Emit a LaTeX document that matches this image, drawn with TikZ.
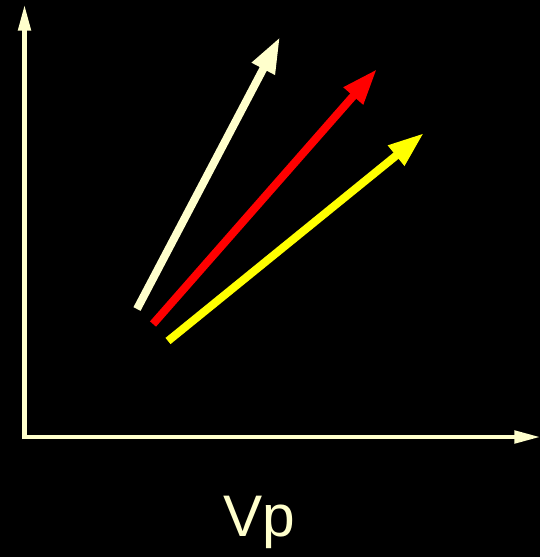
\documentclass[tikz,border=0pt]{standalone}
\usepackage{fontspec}
\setmainfont{Liberation Sans}
\usepackage{xcolor}
\usepackage{tikz}
\usetikzlibrary{arrows.meta, positioning, calc}
\definecolor{cream}{RGB}{255, 255, 204}
\definecolor{vred}{RGB}{255, 0, 0}
\definecolor{vyellow}{RGB}{255, 255, 0}

\begin{document}
\begin{tikzpicture}[x=0.75pt, y=-0.75pt,
    axis/.style={cream, line width=3.6pt, -{Triangle[length=20pt, width=9pt]}},
    vec/.style={line width=6pt, -{Triangle[length=27pt, width=18pt]}}]
    % 背景
    \fill[black] (0, 0) rectangle (540, 557);
    \useasboundingbox (0, 0) rectangle (540, 557);

    % 坐标轴
    \coordinate (origin) at (24.5, 437);
    \coordinate (ytip) at (24.5, 4);
    \coordinate (xtip) at (541, 437);
    \draw[axis] ($(origin)+(0, 2)$) -- (ytip);
    \draw[axis] ($(origin)+(-2, 0)$) -- (xtip);

    % 三个矢量
    \coordinate (c0) at (137, 309);
    \coordinate (c1) at (280, 37);
    \coordinate (r0) at (153, 324);
    \coordinate (r1) at (377, 69);
    \coordinate (y0) at (168, 341);
    \coordinate (y1) at (424, 133);
    \draw[vec, cream] (c0) -- (c1);
    \draw[vec, vred] (r0) -- (r1);
    \draw[vec, vyellow] (y0) -- (y1);

    % 标注
    \node[cream, font=\fontsize{44}{48}\selectfont, anchor=base] (vp) at (259, 536) {Vp};
\end{tikzpicture}
\end{document}
